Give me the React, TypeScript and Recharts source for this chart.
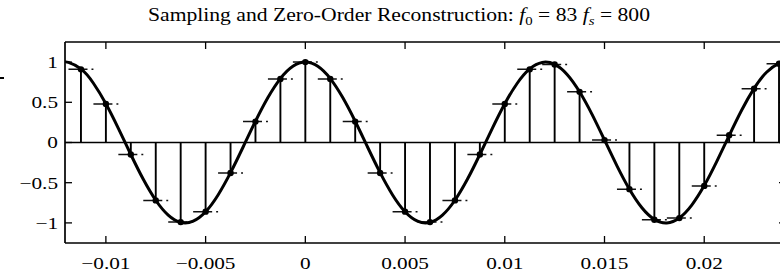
import React from "react";
import {
  ComposedChart,
  Line,
  Scatter,
  XAxis,
  YAxis,
  ReferenceLine,
} from "recharts";

const X_TICKS = [-0.01, -0.005, 0, 0.005, 0.01, 0.015, 0.02];
const X_TICK_LABELS = ["−0.01", "−0.005", "0", "0.005", "0.01", "0.015", "0.02"];
const Y_TICKS = [-1, -0.5, 0, 0.5, 1];
const Y_TICK_LABELS = ["−1", "−0.5", "0", "0.5", "1"];

const sampleTimes = [
  -0.01125, -0.01, -0.00875, -0.0075, -0.00625, -0.005, -0.00375, -0.0025, -0.00125, 0,
  0.00125, 0.0025, 0.00375, 0.005, 0.00625, 0.0075, 0.00875, 0.01, 0.01125, 0.0125,
  0.01375, 0.015, 0.01625, 0.0175, 0.01875, 0.02, 0.02125, 0.0225, 0.02375,
];
const sampleValues = [
  0.91, 0.48, -0.15, -0.72, -0.99, -0.86, -0.38, 0.26, 0.79, 1,
  0.79, 0.26, -0.38, -0.86, -0.99, -0.72, -0.15, 0.48, 0.91, 0.97,
  0.63, 0.03, -0.58, -0.96, -0.94, -0.54, 0.09, 0.67, 0.98,
];

const curveTimes = [
  -0.01205, -0.011875, -0.01125, -0.010625, -0.01, -0.009375, -0.00875, -0.008125, -0.0075,
  -0.006875, -0.00625, -0.005625, -0.005, -0.004375, -0.00375, -0.003125, -0.0025,
  -0.001875, -0.00125, -0.000625, 0, 0.000625, 0.00125, 0.001875, 0.0025, 0.003125,
  0.00375, 0.004375, 0.005, 0.005625, 0.00625, 0.006875, 0.0075, 0.008125, 0.00875,
  0.009375, 0.01, 0.010625, 0.01125, 0.011875, 0.0125, 0.013125, 0.01375, 0.014375,
  0.015, 0.015625, 0.01625, 0.016875, 0.0175, 0.018125, 0.01875, 0.019375, 0.02,
  0.020625, 0.02125, 0.021875, 0.0225, 0.023125, 0.02375, 0.0241,
];
const curveValues = [
  1.0, 0.996, 0.915, 0.737, 0.482, 0.176, -0.149, -0.458, -0.718,
  -0.903, -0.993, -0.978, -0.861, -0.652, -0.375, -0.059, 0.264,
  0.559, 0.795, 0.947, 1.0, 0.947, 0.795, 0.559, 0.264, -0.059,
  -0.375, -0.652, -0.861, -0.978, -0.993, -0.903, -0.718, -0.458, -0.149,
  0.176, 0.482, 0.737, 0.915, 0.996, 0.972, 0.847, 0.631, 0.35,
  0.031, -0.29, -0.581, -0.811, -0.956, -1.0, -0.938, -0.778, -0.536,
  -0.237, 0.086, 0.401, 0.673, 0.874, 0.984, 1.0,
];

const SAMPLE_PERIOD = 0.00125;

const sampleData = sampleTimes.map((t, i) => ({ t, v: sampleValues[i] }));
const curveData = curveTimes.map((t, i) => ({ t, v: curveValues[i] }));

const FONT = "'Liberation Serif', 'DejaVu Serif', serif";
const SX = 1.25;
const TICK_LEN = 7;
const LABEL_SIZE = 17;

const BottomTick = (props: any) => {
  const { x, y, payload } = props;
  const idx = X_TICKS.indexOf(payload.value);
  return (
    <g>
      <line x1={x} y1={y} x2={x} y2={y - TICK_LEN} stroke="#000" strokeWidth={1.3} />
      <text
        transform={`translate(${x},${y + 26}) scale(${SX},1)`}
        textAnchor="middle"
        fontFamily={FONT}
        fontSize={LABEL_SIZE}
        fill="#000"
      >
        {idx >= 0 ? X_TICK_LABELS[idx] : ""}
      </text>
    </g>
  );
};

const TopTick = (props: any) => {
  const { x, y } = props;
  return <line x1={x} y1={y} x2={x} y2={y + TICK_LEN} stroke="#000" strokeWidth={1.3} />;
};

const LeftTick = (props: any) => {
  const { x, y, payload } = props;
  const idx = Y_TICKS.indexOf(payload.value);
  return (
    <g>
      <line x1={x} y1={y} x2={x + TICK_LEN} y2={y} stroke="#000" strokeWidth={1.3} />
      <text
        transform={`translate(${x - 7},${y}) scale(${SX},1)`}
        textAnchor="end"
        dy="0.35em"
        fontFamily={FONT}
        fontSize={LABEL_SIZE}
        fill="#000"
      >
        {idx >= 0 ? Y_TICK_LABELS[idx] : ""}
      </text>
    </g>
  );
};

const RightTick = (props: any) => {
  const { x, y } = props;
  return <line x1={x} y1={y} x2={x - TICK_LEN} y2={y} stroke="#000" strokeWidth={1.3} />;
};

const Dot = (props: any) => {
  const { cx, cy } = props;
  if (cx == null || cy == null) return null;
  return <circle cx={cx} cy={cy} r={3.2} fill="#000" />;
};

export default function App() {
  return (
    <div
      style={{
        position: "fixed",
        left: 0,
        top: 0,
        width: 780,
        height: 272,
        overflow: "hidden",
        background: "#fff",
      }}
    >
      <div style={{ position: "absolute", left: 0, top: 77, width: 4, height: 2, background: "#000" }} />
      <svg
        width={780}
        height={32}
        style={{ position: "absolute", left: 0, top: 0 }}
      >
        <text
          x={148}
          y={21}
          fontFamily={FONT}
          fontSize={19}
          fill="#000"
          textLength={502}
          lengthAdjust="spacingAndGlyphs"
        >
          Sampling and Zero-Order Reconstruction:{"  "}
          <tspan fontStyle="italic">f</tspan>
          <tspan fontSize={13} dy={4}>0</tspan>
          <tspan dy={-4}> = 83 </tspan>
          <tspan fontStyle="italic"> f</tspan>
          <tspan fontSize={13} dy={4} fontStyle="italic">s</tspan>
          <tspan dy={-4}> = 800</tspan>
        </text>
      </svg>
      <div style={{ position: "absolute", left: 0, top: 0 }}>
        <ComposedChart
          width={800}
          height={280}
          margin={{ top: 41, right: 13, bottom: 36, left: 64 }}
        >
          <XAxis
            dataKey="t"
            type="number"
            domain={[-0.01205, 0.0241]}
            allowDataOverflow
            ticks={X_TICKS}
            interval={0}
            height={1}
            tickSize={0}
            tickMargin={0}
            tickLine={false}
            axisLine={{ stroke: "#000", strokeWidth: 1.3 }}
            tick={<BottomTick />}
          />
          <XAxis
            xAxisId="top"
            orientation="top"
            dataKey="t"
            type="number"
            domain={[-0.01205, 0.0241]}
            allowDataOverflow
            ticks={X_TICKS}
            interval={0}
            height={1}
            tickSize={0}
            tickMargin={0}
            tickLine={false}
            axisLine={{ stroke: "#000", strokeWidth: 1.3 }}
            tick={<TopTick />}
          />
          <YAxis
            dataKey="v"
            type="number"
            domain={[-1.25, 1.25]}
            allowDataOverflow
            ticks={Y_TICKS}
            interval={0}
            width={1}
            tickSize={0}
            tickMargin={0}
            tickLine={false}
            axisLine={{ stroke: "#000", strokeWidth: 1.7 }}
            tick={<LeftTick />}
          />
          <YAxis
            yAxisId="r"
            orientation="right"
            type="number"
            domain={[-1.25, 1.25]}
            allowDataOverflow
            ticks={Y_TICKS}
            interval={0}
            width={1}
            tickSize={0}
            tickMargin={0}
            tickLine={false}
            axisLine={{ stroke: "#000", strokeWidth: 1.7 }}
            tick={<RightTick />}
          />
          <ReferenceLine y={0} stroke="#000" strokeWidth={1.3} ifOverflow="visible" />
          {sampleData.map((d, i) => (
            <ReferenceLine
              key={"stem" + i}
              segment={[
                { x: d.t, y: 0 },
                { x: d.t, y: d.v },
              ]}
              stroke="#000"
              strokeWidth={1.9}
              ifOverflow="visible"
            />
          ))}
          {sampleData.map((d, i) => (
            <ReferenceLine
              key={"hold" + i}
              segment={[
                { x: d.t - SAMPLE_PERIOD / 2, y: d.v },
                { x: d.t + SAMPLE_PERIOD / 2, y: d.v },
              ]}
              stroke="#111"
              strokeWidth={1.5}
              strokeDasharray="19 4 2 20"
              ifOverflow="visible"
            />
          ))}
          <Line
            data={curveData}
            dataKey="v"
            type="natural"
            stroke="#000"
            strokeWidth={3}
            dot={false}
            activeDot={false}
            isAnimationActive={false}
          />
          <Scatter
            data={sampleData}
            dataKey="v"
            fill="#000"
            shape={<Dot />}
            isAnimationActive={false}
          />
        </ComposedChart>
      </div>
    </div>
  );
}
